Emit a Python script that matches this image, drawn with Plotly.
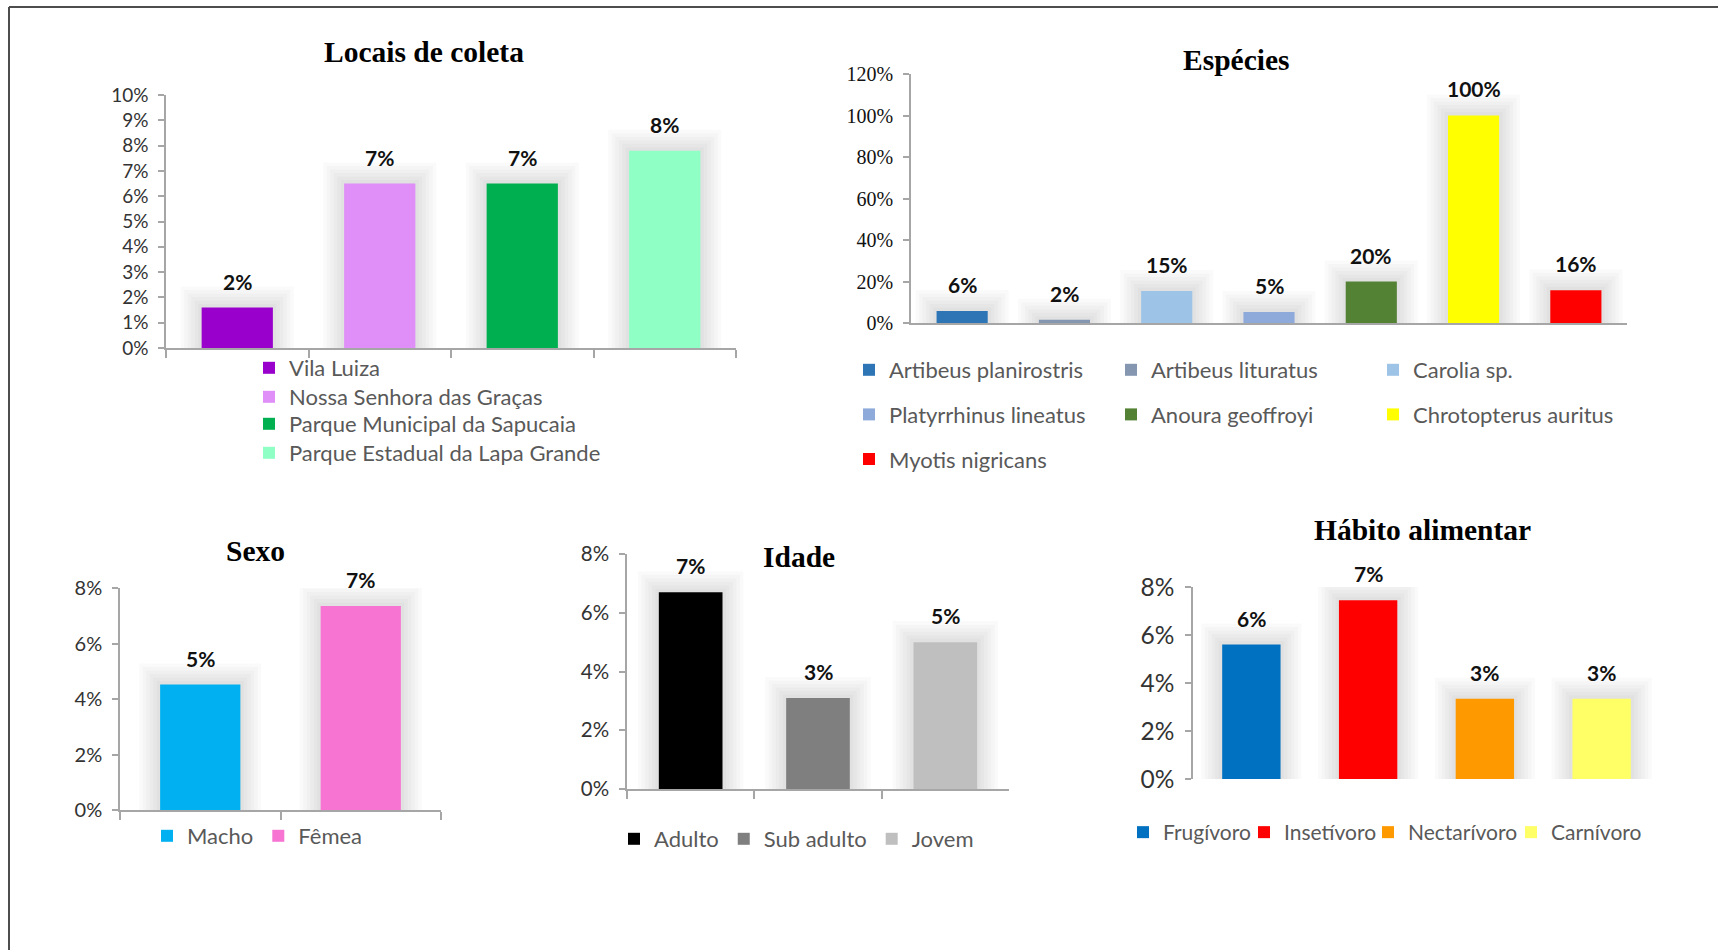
import math
import plotly.graph_objects as go

W, H = 1718, 950

# ---------------- data ----------------
locais = ["Vila Luiza", "Nossa Senhora das Graças",
          "Parque Municipal da Sapucaia", "Parque Estadual da Lapa Grande"]
locais_pct = [0.016, 0.065, 0.065, 0.078]
locais_cores = ["#9900cc", "#e08ef8", "#00b050", "#8fffc5"]

especies = ["Artibeus planirostris", "Artibeus lituratus", "Carolia sp.",
            "Platyrrhinus lineatus", "Anoura geoffroyi",
            "Chrotopterus auritus", "Myotis nigricans"]
especies_pct = [0.058, 0.016, 0.154, 0.053, 0.20, 1.00, 0.158]
especies_cores = ["#2e75b6", "#8496b0", "#9dc3e6", "#8eaadb",
                  "#548235", "#ffff00", "#ff0000"]

sexo = ["Macho", "Fêmea"]
sexo_pct = [0.0452, 0.0735]
sexo_cores = ["#00b0f0", "#f774d3"]

idade = ["Adulto", "Sub adulto", "Jovem"]
idade_pct = [0.067, 0.031, 0.050]
idade_cores = ["#000000", "#7f7f7f", "#bfbfbf"]

habito = ["Frugívoro", "Insetívoro", "Nectarívoro", "Carnívoro"]
habito_pct = [0.056, 0.0745, 0.0334, 0.0334]
habito_cores = ["#0070c0", "#ff0000", "#ff9900", "#ffff66"]

# ---------------- styling ----------------
SANS = "Lato, 'Open Sans', sans-serif"
SERIF = "'Liberation Serif', 'Times New Roman', serif"
AXIS_GRAY = "#a6a6a6"
LEG_GRAY = "#595959"
BAR_W = 0.5


def px_x(p):
    return p / W


def px_y(p):
    return 1 - p / H


def pct(v):
    return f"{math.floor(v * 100 + 0.5)}%"


fig = go.Figure()

# panel geometry in pixels: plot left/right, baseline (0%) and top of axis
panels = [
    dict(name="1", cats=locais, vals=locais_pct, cols=locais_cores,
         left=166, right=736, base=348, top=95, ymax=0.10, dtick=0.01,
         tickfont=dict(family=SANS, size=19, color="#333333"),
         xline=True, xticks=True, title="Locais de coleta", tx=424, ty=52),
    dict(name="2", cats=especies, vals=especies_pct, cols=especies_cores,
         left=911, right=1627, base=323, top=74, ymax=1.2, dtick=0.2,
         tickfont=dict(family=SERIF, size=20, color="#111111"),
         xline=True, xticks=False, title="Espécies", tx=1236, ty=60),
    dict(name="3", cats=sexo, vals=sexo_pct, cols=sexo_cores,
         left=120, right=441, base=810, top=588, ymax=0.08, dtick=0.02,
         tickfont=dict(family=SANS, size=20, color="#333333"),
         xline=True, xticks=True, title="Sexo", tx=255, ty=551),
    dict(name="4", cats=idade, vals=idade_pct, cols=idade_cores,
         left=627, right=1009, base=789, top=554, ymax=0.08, dtick=0.02,
         tickfont=dict(family=SANS, size=20.5, color="#333333"),
         xline=True, xticks=True, title="Idade", tx=799, ty=557),
    dict(name="5", cats=habito, vals=habito_pct, cols=habito_cores,
         left=1193, right=1660, base=779, top=587, ymax=0.08, dtick=0.02,
         tickfont=dict(family=SANS, size=24.5, color="#333333"),
         xline=False, xticks=False, title="Hábito alimentar", tx=1422, ty=530),
]

# which legend each series entry goes to
legend_of = {
    "1": ["legend", "legend2", "legend3", "legend4"],
    "2": ["legend5", "legend6", "legend7", "legend5", "legend6", "legend7", "legend5"],
    "3": ["legend8"] * 2,
    "4": ["legend9"] * 3,
    "5": ["legend10", "legend11", "legend12", "legend13"],
}

annotations = []
layout_axes = {}

for i, p in enumerate(panels):
    n = len(p["cats"])
    xa = "x" if i == 0 else f"x{i + 1}"
    ya = "y" if i == 0 else f"y{i + 1}"
    xkey = "xaxis" if i == 0 else f"xaxis{i + 1}"
    ykey = "yaxis" if i == 0 else f"yaxis{i + 1}"

    cat_px = (p["right"] - p["left"]) / n
    y_per_px = p["ymax"] / (p["base"] - p["top"])

    # soft halo behind the bars
    n_layers, step = 6, 3.5
    for k in range(n_layers, 0, -1):
        fig.add_trace(go.Bar(
            x=p["cats"], y=[v + k * step * y_per_px for v in p["vals"]],
            width=BAR_W + 2 * k * step / cat_px,
            marker=dict(color="rgba(0,0,0,0.02)", line_width=0),
            xaxis=xa, yaxis=ya, showlegend=False, hoverinfo="skip"))

    # one trace per category so each gets its own legend entry
    for j, (c, v, col) in enumerate(zip(p["cats"], p["vals"], p["cols"])):
        fig.add_trace(go.Bar(
            x=[c], y=[v], name=c, width=BAR_W,
            marker=dict(color=col, line_width=0),
            xaxis=xa, yaxis=ya, legend=legend_of[p["name"]][j],
            legendgroup=f"{p['name']}-{j}"))
        annotations.append(dict(
            x=c, y=v, xref=xa, yref=ya, text=pct(v), showarrow=False,
            yanchor="bottom", yshift=12,
            font=dict(family=SANS, size=21, color="#111111", weight="bold")))

    layout_axes[xkey] = dict(
        domain=[px_x(p["left"]), px_x(p["right"])], anchor=ya,
        type="category", range=[-0.5, n - 0.5], categoryorder="array",
        categoryarray=p["cats"], showticklabels=False, showgrid=False,
        zeroline=False, showline=p["xline"], linecolor=AXIS_GRAY, linewidth=1.5,
        ticks="outside" if p["xticks"] else "", tickson="boundaries",
        ticklen=8, tickcolor=AXIS_GRAY, tickwidth=1.5, fixedrange=True,
        automargin=False)
    layout_axes[ykey] = dict(
        domain=[px_y(p["base"]), px_y(p["top"])], anchor=xa,
        range=[0, p["ymax"]], dtick=p["dtick"], tick0=0, tickformat=".0%",
        showgrid=False, zeroline=False, showline=True, linecolor=AXIS_GRAY,
        linewidth=1.5, ticks="outside", ticklen=6, tickcolor=AXIS_GRAY,
        tickwidth=1.5, tickfont=p["tickfont"], ticklabelstandoff=6,
        fixedrange=True, automargin=False)

    annotations.append(dict(
        x=px_x(p["tx"]), y=px_y(p["ty"]), xref="paper", yref="paper",
        text=p["title"], showarrow=False, xanchor="center", yanchor="middle",
        font=dict(family=SERIF, size=29.5, color="#000000", weight="bold")))


def legend_box(x_px, y_px, size, orientation="v", gap=0):
    return dict(
        x=px_x(x_px), y=px_y(y_px), xanchor="left", yanchor="top",
        orientation=orientation, bgcolor="rgba(0,0,0,0)", borderwidth=0,
        font=dict(family=SANS, size=size, color=LEG_GRAY),
        traceorder="grouped", tracegroupgap=gap, itemclick=False,
        itemdoubleclick=False)


legends = dict(
    # collection sites: one stacked entry per row
    legend=legend_box(249, 347, 22),
    legend2=legend_box(249, 376, 22),
    legend3=legend_box(249, 403, 22),
    legend4=legend_box(249, 432, 22),
    # species: three columns
    legend5=legend_box(849, 349, 22, gap=13),
    legend6=legend_box(1111, 349, 22, gap=13),
    legend7=legend_box(1373, 349, 22, gap=13),
    # sex and age: single rows
    legend8=legend_box(147, 815, 22, orientation="h"),
    legend9=legend_box(614, 818, 22, orientation="h"),
    # feeding habit: one entry each
    legend10=legend_box(1123, 812, 21),
    legend11=legend_box(1244, 812, 21),
    legend12=legend_box(1368, 812, 21),
    legend13=legend_box(1511, 812, 21),
)

# page frame along the top and left edges
shapes = [
    dict(type="line", xref="paper", yref="paper", x0=px_x(9), x1=1,
         y0=px_y(7), y1=px_y(7), line=dict(color="#4d4d4d", width=2)),
    dict(type="line", xref="paper", yref="paper", x0=px_x(9), x1=px_x(9),
         y0=px_y(7), y1=0, line=dict(color="#4d4d4d", width=2)),
]

fig.update_layout(
    width=W, height=H, margin=dict(l=0, r=0, t=0, b=0, autoexpand=False),
    paper_bgcolor="white", plot_bgcolor="rgba(0,0,0,0)",
    barmode="overlay", showlegend=True,
    annotations=annotations, shapes=shapes, **layout_axes, **legends,
)

fig.write_html("out.html", config={"displayModeBar": False})
